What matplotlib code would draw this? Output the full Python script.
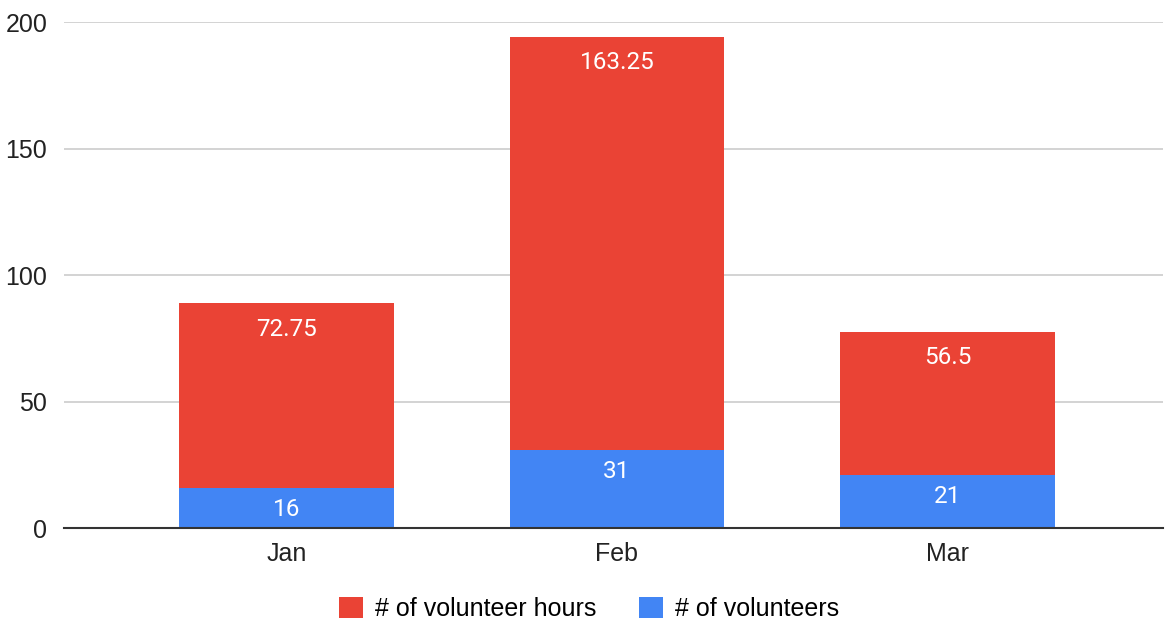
import matplotlib
matplotlib.use("Agg")
import matplotlib.pyplot as plt
import numpy as np

months = ["Jan", "Feb", "Mar"]
volunteers = [16, 31, 21]
hours = [72.75, 163.25, 56.5]
hour_labels = ["72.75", "163.25", "56.5"]
vol_labels = ["16", "31", "21"]

RED = "#EA4335"
BLUE = "#4285F4"

plt.rcParams["font.family"] = ["Liberation Sans", "DejaVu Sans"]

fig = plt.figure(figsize=(11.67, 6.22), dpi=100)
ax = fig.add_axes([0.0548, 0.1511, 0.9418, 0.8135])

x = np.arange(len(months))
w = 0.648
b1 = ax.bar(x, volunteers, width=w, color=BLUE, label="# of volunteers", zorder=3)
b2 = ax.bar(x, hours, width=w, bottom=volunteers, color=RED,
            label="# of volunteer hours", zorder=3)

for i in range(len(months)):
    ax.annotate(vol_labels[i], (x[i], volunteers[i]), xytext=(0, -15.5),
                textcoords="offset points", ha="center", va="center",
                color="white", fontsize=17.5, family="Roboto", zorder=4)
    ax.annotate(hour_labels[i], (x[i], volunteers[i] + hours[i]), xytext=(0, -18.5),
                textcoords="offset points", ha="center", va="center",
                color="white", fontsize=17.5, family="Roboto", zorder=4)

ax.set_xlim(-0.673, 2.652)
ax.set_ylim(0, 200)
ax.set_yticks([0, 50, 100, 150, 200])
ax.set_xticks(x)
ax.set_xticklabels(months)
ax.grid(axis="y", color="#cccccc", linewidth=1.2, zorder=0)
for s in ["top", "right", "left"]:
    ax.spines[s].set_visible(False)
ax.spines["bottom"].set_color("#333333")
ax.spines["bottom"].set_linewidth(1.5)
ax.spines["bottom"].set_zorder(5)
ax.tick_params(axis="both", length=0, labelsize=18, colors="#222222")
ax.tick_params(axis="y", pad=12)
ax.tick_params(axis="x", pad=10)

fig.legend(handles=[b2, b1], labels=["# of volunteer hours", "# of volunteers"],
           loc="center", bbox_to_anchor=(589 / 1167, 1 - 609 / 622), ncol=2,
           frameon=False, fontsize=18, handlelength=0.95, handleheight=0.95,
           handletextpad=0.5, columnspacing=1.7)

fig.savefig("out.png", dpi=100)
